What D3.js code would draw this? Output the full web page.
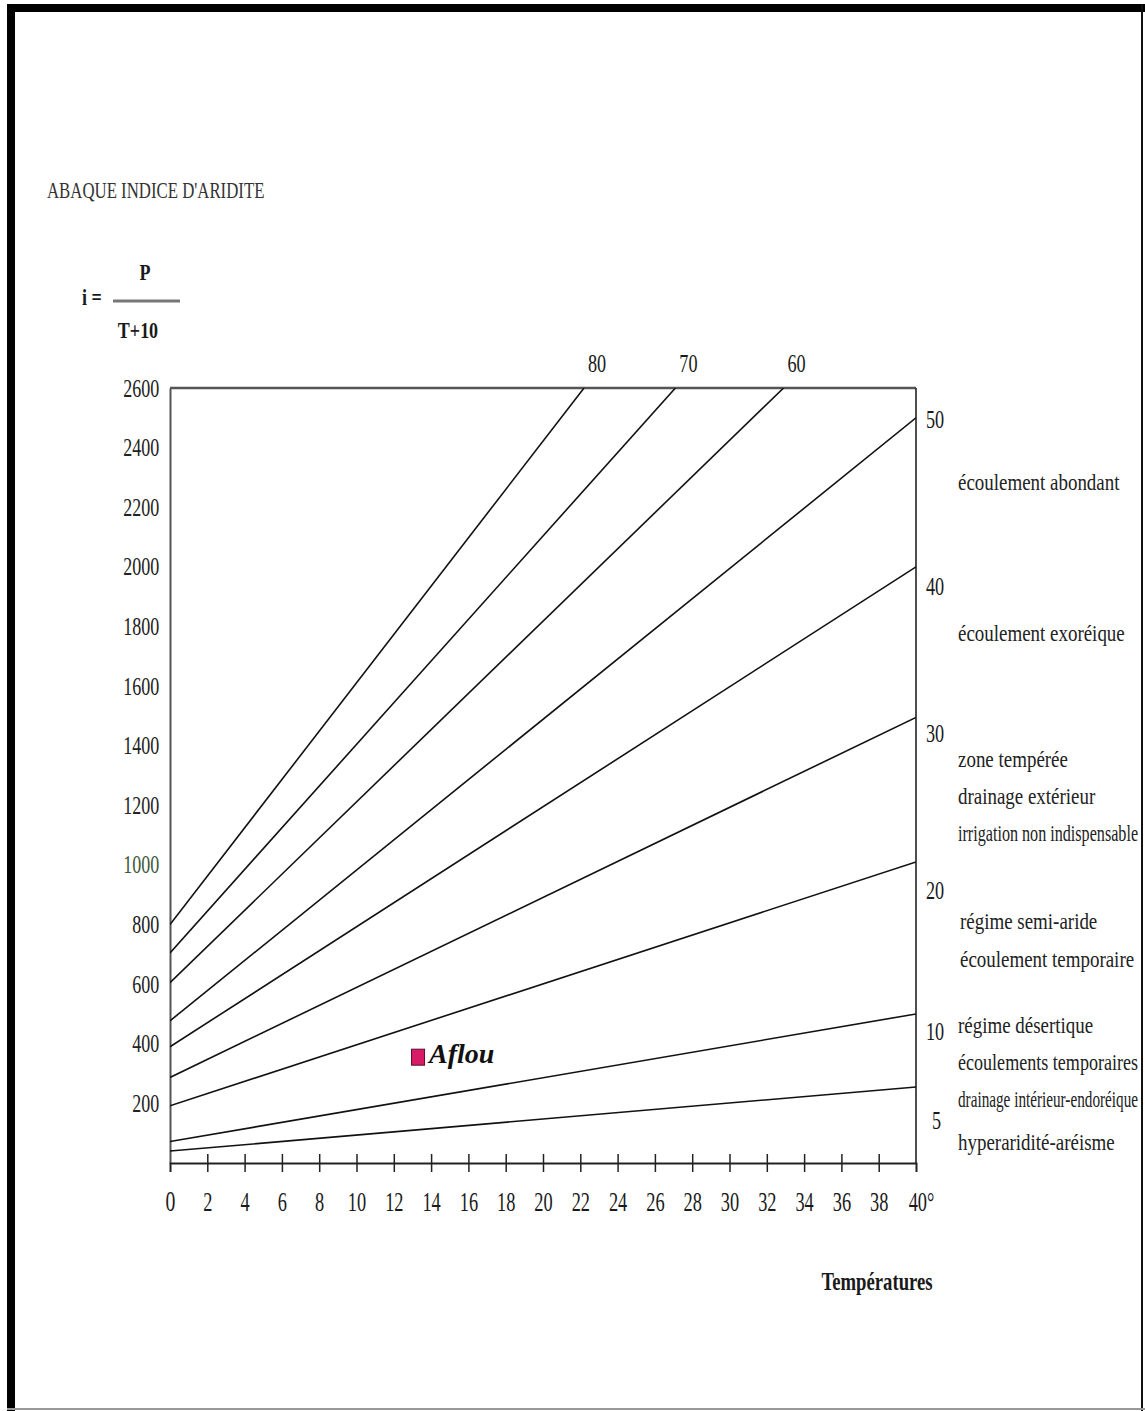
<!DOCTYPE html>
<html>
<head>
<meta charset="utf-8">
<script src="https://cdn.jsdelivr.net/npm/d3@7"></script>
<style>
  html, body { margin: 0; padding: 0; background: #fff; }
  svg { display: block; }
  text { font-family: "Liberation Serif", "Times New Roman", serif; fill: #1a1a1a; }
</style>
</head>
<body>
<svg id="chart" width="1145" height="1411"></svg>
<script>
// Aridity index lines i = P / (T + 10): index value, P at T = 0, and the end point of each line
const indexValues = [5, 10, 20, 30, 40, 50, 60, 70, 80];
const startP      = [40, 72, 192, 287, 390, 477, 605, 705, 800];
const endT        = [40, 40, 40, 40, 40, 40, 32.9, 27.1, 22.2];
const endP        = [255, 500, 1010, 1495, 2000, 2500, 2600, 2600, 2600];

// Axis ticks
const yTicks = [200, 400, 600, 800, 1000, 1200, 1400, 1600, 1800, 2000, 2200, 2400, 2600];
const xTicks = [0, 2, 4, 6, 8, 10, 12, 14, 16, 18, 20, 22, 24, 26, 28, 30, 32, 34, 36, 38, 40];

// Climate zones described to the right of the chart
const zoneLines = [
  "écoulement abondant",
  "écoulement exoréique",
  "zone tempérée",
  "drainage extérieur",
  "irrigation non indispensable",
  "régime semi-aride",
  "écoulement temporaire",
  "régime désertique",
  "écoulements temporaires",
  "drainage intérieur-endoréique",
  "hyperaridité-aréisme"
];

// Station
const stationName = "Aflou";
const stationT = 13.3;
const stationP = 355;

const svg = d3.select("#chart");
const SX = 0.72; // narrow serif lettering

const x = d3.scaleLinear().domain([0, 40]).range([170, 916]);
const y = d3.scaleLinear().domain([0, 2600]).range([1163, 388]);

function label(g, txt, px, py, opts = {}) {
  const t = g.append("text")
    .attr("transform", `translate(${px},${py}) scale(${opts.sx ?? SX},1)`)
    .attr("text-anchor", opts.anchor || "start")
    .style("font-size", (opts.size || 24) + "px")
    .text(txt);
  if (opts.weight) t.style("font-weight", opts.weight);
  if (opts.style) t.style("font-style", opts.style);
  if (opts.fill) t.style("fill", opts.fill);
  // keep long left-anchored lines inside the page
  if (opts.maxRight) {
    const len = t.node().getComputedTextLength();
    let sx = opts.sx ?? SX;
    if (px + len * sx > opts.maxRight) {
      sx = (opts.maxRight - px) / len;
      t.attr("transform", `translate(${px},${py}) scale(${sx},1)`);
    }
  }
  return t;
}

// Page frame: heavy left and top rule, light right and bottom rule
svg.append("line").attr("x1", 11).attr("x2", 11).attr("y1", 4).attr("y2", 1411)
  .attr("stroke", "#000").attr("stroke-width", 8);
svg.append("line").attr("x1", 7).attr("x2", 1145).attr("y1", 8).attr("y2", 8)
  .attr("stroke", "#000").attr("stroke-width", 8);
svg.append("line").attr("x1", 1142).attr("x2", 1142).attr("y1", 4).attr("y2", 1411)
  .attr("stroke", "#111").attr("stroke-width", 2);
svg.append("line").attr("x1", 7).attr("x2", 1145).attr("y1", 1409).attr("y2", 1409)
  .attr("stroke", "#999").attr("stroke-width", 2);

// Title and formula
label(svg, "ABAQUE INDICE D'ARIDITE", 47, 198, { size: 23, sx: 0.73, fill: "#333" });
label(svg, "i =", 82, 305, { size: 24, weight: "bold", sx: 0.75 });
label(svg, "P", 145, 280, { size: 24, weight: "bold", anchor: "middle", sx: 0.75 });
svg.append("line").attr("x1", 113).attr("x2", 180).attr("y1", 301).attr("y2", 301)
  .attr("stroke", "#777").attr("stroke-width", 3);
label(svg, "T+10", 138, 338, { size: 24, weight: "bold", anchor: "middle", sx: 0.75 });

// Plot frame
const frame = svg.append("g");
frame.append("line").attr("x1", x(0)).attr("x2", x(40)).attr("y1", y(2600)).attr("y2", y(2600))
  .attr("stroke", "#555").attr("stroke-width", 2.5);
frame.append("line").attr("x1", x(40)).attr("x2", x(40)).attr("y1", y(2600)).attr("y2", y(0))
  .attr("stroke", "#222").attr("stroke-width", 1.6);

// Y axis (labels only, no tick marks)
const yAxis = svg.append("g").attr("transform", `translate(${x(0)},0)`)
  .call(d3.axisLeft(y).tickValues(yTicks).tickSize(0).tickPadding(15).tickFormat(d3.format("d")));
yAxis.select(".domain").attr("stroke", "#555").attr("stroke-width", 2);
yAxis.selectAll("text")
  .attr("transform", `scale(${SX},1)`)
  .style("font-size", "25px")
  .style("font-family", "'Liberation Serif', serif")
  .style("fill", d => d === 1000 ? "#3d5a3a" : "#222");

// X axis with ticks crossing the baseline
const xAxis = svg.append("g").attr("transform", `translate(0,${y(0)})`)
  .call(d3.axisBottom(x).tickValues(xTicks).tickSize(9).tickPadding(0)
    .tickFormat(d => d === 40 ? "40°" : String(d)));
xAxis.select(".domain").attr("stroke", "#222").attr("stroke-width", 2);
xAxis.selectAll(".tick line")
  .attr("y1", -9).attr("y2", 9)
  .attr("stroke", "#222").attr("stroke-width", 1.5)
  .style("display", d => (d === 0 || d === 40) ? "none" : null);
xAxis.selectAll("text")
  .attr("y", 0).attr("dy", 0)
  .attr("transform", d => `translate(${d === 40 ? 5 : 0},48) scale(0.68,1)`)
  .style("font-size", d => d === 0 ? "29px" : "27px")
  .style("font-family", "'Liberation Serif', serif")
  .style("fill", "#1a1a1a");

// Index lines
svg.append("clipPath").attr("id", "plotClip")
  .append("rect").attr("x", x(0)).attr("y", y(2600)).attr("width", x(40) - x(0)).attr("height", y(0) - y(2600));
const linesG = svg.append("g").attr("clip-path", "url(#plotClip)");
const lineData = indexValues.map((v, i) => ({
  index: v,
  pts: [[0, startP[i]], [endT[i], endP[i]]]
}));
const lineGen = d3.line().x(d => x(d[0])).y(d => y(d[1]));
linesG.selectAll("path").data(lineData).join("path")
  .attr("d", d => lineGen(d.pts))
  .attr("fill", "none").attr("stroke", "#111").attr("stroke-width", 1.6);

// Index labels: along the top edge for steep lines, beside the right edge for the rest
const topLabelDx = 13;
const rightLabelDy = { 50: 10, 40: 28, 30: 25, 20: 37, 10: 26, 5: 42 };
lineData.forEach(d => {
  const last = d.pts[1];
  if (last[0] < 40) {
    label(svg, String(d.index), x(last[0]) + topLabelDx, y(2600) - 16, { size: 26, sx: 0.7, anchor: "middle" });
  } else {
    const extra = d.index === 5 ? 6 : 0;
    label(svg, String(d.index), 926 + extra, y(last[1]) + rightLabelDy[d.index], { size: 26, sx: 0.7 });
  }
});

// Zone descriptions
const zoneLayout = [
  [958, 490], [958, 641],
  [958, 767], [958, 804], [958, 841],
  [960, 929], [960, 967],
  [958, 1033], [958, 1070], [958, 1107], [958, 1150]
];
zoneLines.forEach((t, i) => {
  label(svg, t, zoneLayout[i][0], zoneLayout[i][1], { size: 24, sx: 0.79, fill: "#222", maxRight: 1138 });
});

// Axis title
label(svg, "Températures", 877, 1290, { size: 26, weight: "bold", anchor: "middle", sx: 0.72 });

// Station marker
const st = svg.append("g");
st.append("rect")
  .attr("x", x(stationT) - 6.5).attr("y", y(stationP) - 8)
  .attr("width", 13).attr("height", 16)
  .attr("fill", "#d81b66").attr("stroke", "#5a0d2c").attr("stroke-width", 1);
label(st, stationName, x(stationT) + 11, y(stationP) + 6, { size: 28, weight: "bold", style: "italic", sx: 1, fill: "#111" });
</script>
</body>
</html>
